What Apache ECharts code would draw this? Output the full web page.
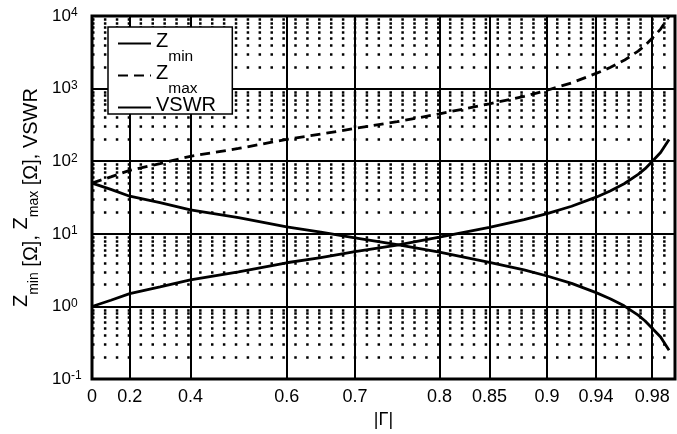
<!DOCTYPE html>
<html>
<head>
<meta charset="utf-8">
<script src="https://cdn.jsdelivr.net/npm/echarts@6/dist/echarts.min.js"></script>
<style>
html, body { margin: 0; padding: 0; background: #fff; }
#chart { width: 677px; height: 434px; }
</style>
</head>
<body>
<div id="chart"></div>
<script>
// ---- |Γ| axis: tick values and labels ----
const gammaTicks = [0, 0.2, 0.4, 0.6, 0.7, 0.8, 0.85, 0.9, 0.94, 0.98];
const gammaTickLabels = ['0', '0.2', '0.4', '0.6', '0.7', '0.8', '0.85', '0.9', '0.94', '0.98'];

// ---- non-linear |Γ| scale: anchor pairs (|Γ| -> axis units) ----
const scaleGamma = [0, 0.2, 0.4, 0.6, 0.7, 0.8, 0.85, 0.9, 0.94, 0.98, 0.99];
const scaleUnits = [0, 3.17, 8.27, 16.36, 22.1, 29.2, 33.4, 38.25, 42.37, 47.08, 48.5];
const axisUnitsMax = 49;

// ---- y axis (log) ticks ----
const yMajorTicks = [0.1, 1, 10, 100, 1000, 10000];
const yMinorTicks = [
  0.2, 0.3, 0.4, 0.5, 0.6, 0.7, 0.8, 0.9,
  2, 3, 4, 5, 6, 7, 8, 9,
  20, 30, 40, 50, 60, 70, 80, 90,
  200, 300, 400, 500, 600, 700, 800, 900,
  2000, 3000, 4000, 5000, 6000, 7000, 8000, 9000
];

// ---- curves ----
const gamma = [0, 0.1, 0.2, 0.3, 0.4, 0.5, 0.6, 0.65, 0.7, 0.75, 0.8, 0.85, 0.88, 0.9, 0.92, 0.94, 0.95, 0.96, 0.97, 0.975, 0.98, 0.985, 0.99];
const zmin = [50, 41, 33, 27, 21.4, 16.7, 12.5, 10.6, 8.8, 7.1, 5.6, 4.05, 3.2, 2.63, 2.08, 1.55, 1.28, 1.02, 0.76, 0.63, 0.5, 0.38, 0.25];
const zmax = [50, 61, 75, 93, 117, 150, 200, 236, 283, 350, 450, 617, 783, 950, 1200, 1620, 1950, 2450, 3280, 3950, 4950, 6600, 9950];
const vswr = [1, 1.22, 1.5, 1.86, 2.33, 3.0, 4.0, 4.7, 5.7, 7.0, 9.0, 12.3, 15.7, 19, 24, 32, 39, 49, 66, 79, 99, 132, 199];

const seriesNames = ['Zmin', 'Zmax', 'VSWR'];

// piecewise-linear |Γ| -> axis-unit transform (custom axis scale)
function gammaToUnits(g) {
  for (let i = 0; i < scaleGamma.length - 1; i++) {
    if (g <= scaleGamma[i + 1]) {
      const t = (g - scaleGamma[i]) / (scaleGamma[i + 1] - scaleGamma[i]);
      return scaleUnits[i] + t * (scaleUnits[i + 1] - scaleUnits[i]);
    }
  }
  return scaleUnits[scaleUnits.length - 1];
}
const tickUnits = gammaTicks.map(gammaToUnits);
function pairs(values) { return gamma.map((g, i) => [gammaToUnits(g), values[i]]); }

const FONT = '"Liberation Sans", Arial, Helvetica, sans-serif';
const plotWidth = 583;
const dotPeriod = plotWidth / axisUnitsMax;

const chart = echarts.init(document.getElementById('chart'), null, { renderer: 'canvas' });
chart.setOption({
  animation: false,
  backgroundColor: '#fff',
  textStyle: { fontFamily: FONT, color: '#000' },
  grid: {
    left: 92, top: 16, width: plotWidth, height: 366,
    show: true, borderColor: '#000', borderWidth: 3, backgroundColor: 'transparent'
  },
  legend: {
    orient: 'vertical',
    left: 108, top: 27,
    padding: [4, 12, -15, 9],
    itemGap: -2,
    itemWidth: 33, itemHeight: 14,
    backgroundColor: '#fff', borderColor: '#000', borderWidth: 1.5, borderRadius: 0,
    itemStyle: { color: 'rgba(0,0,0,0)', borderWidth: 0, borderColor: 'rgba(0,0,0,0)', opacity: 0 },
    data: seriesNames,
    formatter: function (name) {
      if (name === 'Zmin') return '{z|Z}{s|min}';
      if (name === 'Zmax') return '{z|Z}{s|max}';
      return '{z|' + name + '}{s|\u00a0}';
    },
    textStyle: {
      color: '#000', fontFamily: FONT, fontSize: 20,
      rich: {
        z: { fontSize: 20, padding: [0, 0, 5, 0], fontFamily: FONT, color: '#000' },
        s: { fontSize: 15.5, padding: [27, 0, 0, 0], fontFamily: FONT, color: '#000' }
      }
    }
  },
  xAxis: [{
    type: 'value', min: 0, max: axisUnitsMax,
    name: '|Γ|', nameLocation: 'middle', nameGap: 28,
    nameTextStyle: { fontSize: 18, color: '#000', fontFamily: FONT },
    axisLine: { show: false },
    axisTick: { show: false, customValues: tickUnits },
    axisLabel: {
      customValues: tickUnits, margin: 9, fontSize: 18, color: '#000', fontFamily: FONT,
      formatter: function (v) {
        let best = 0;
        for (let i = 1; i < tickUnits.length; i++) if (Math.abs(tickUnits[i] - v) < Math.abs(tickUnits[best] - v)) best = i;
        return gammaTickLabels[best];
      }
    },
    splitLine: { show: true, lineStyle: { color: '#000', width: 2 } }
  }],
  yAxis: [{
    type: 'log', logBase: 10, min: 0.1, max: 10000,
    name: '{z|Z}{s|min}{n| [Ω], }{z|Z}{s|max}{n| [Ω], VSWR}',
    nameLocation: 'middle', nameGap: 51,
    nameTextStyle: {
      fontSize: 20, color: '#000', fontFamily: FONT,
      rich: {
        z: { fontSize: 20, lineHeight: 20, verticalAlign: 'top', fontFamily: FONT, color: '#000' },
        s: { fontSize: 14, lineHeight: 14, verticalAlign: 'bottom', fontFamily: FONT, color: '#000' },
        n: { fontSize: 20, lineHeight: 30, verticalAlign: 'bottom', fontFamily: FONT, color: '#000' }
      }
    },
    axisLine: { show: false },
    axisTick: { show: false, customValues: yMajorTicks },
    axisLabel: {
      customValues: yMajorTicks, align: 'left', margin: 40, color: '#000',
      formatter: function (v) {
        const e = Math.round(Math.log10(v));
        return '{b|10}{s|' + e + '}';
      },
      rich: {
        b: { fontSize: 17, lineHeight: 18, verticalAlign: 'middle', fontFamily: FONT, color: '#000' },
        s: { fontSize: 12, lineHeight: 12, verticalAlign: 'top', fontFamily: FONT, color: '#000' }
      }
    },
    splitLine: { show: true, lineStyle: { color: '#000', width: 2 } }
  }, {
    type: 'log', logBase: 10, min: 0.1, max: 10000, position: 'left',
    axisLine: { show: false },
    axisLabel: { show: false },
    axisTick: { show: false, customValues: yMinorTicks },
    splitLine: {
      show: true,
      lineStyle: { color: '#000', width: 2.5, type: [2.5, dotPeriod - 2.5], dashOffset: 0 }
    }
  }],
  series: [{
    name: 'Zmin', type: 'line', xAxisIndex: 0, yAxisIndex: 0,
    data: pairs(zmin), symbol: 'none', lineStyle: { color: '#000', width: 2.8 }, itemStyle: { color: '#000' }
  }, {
    name: 'Zmax', type: 'line', xAxisIndex: 0, yAxisIndex: 0,
    data: pairs(zmax), symbol: 'none', lineStyle: { color: '#000', width: 2.8, type: [10, 6] }, itemStyle: { color: '#000' }
  }, {
    name: 'VSWR', type: 'line', xAxisIndex: 0, yAxisIndex: 0,
    data: pairs(vswr), symbol: 'none', lineStyle: { color: '#000', width: 2.8 }, itemStyle: { color: '#000' }
  }]
});
</script>
</body>
</html>
